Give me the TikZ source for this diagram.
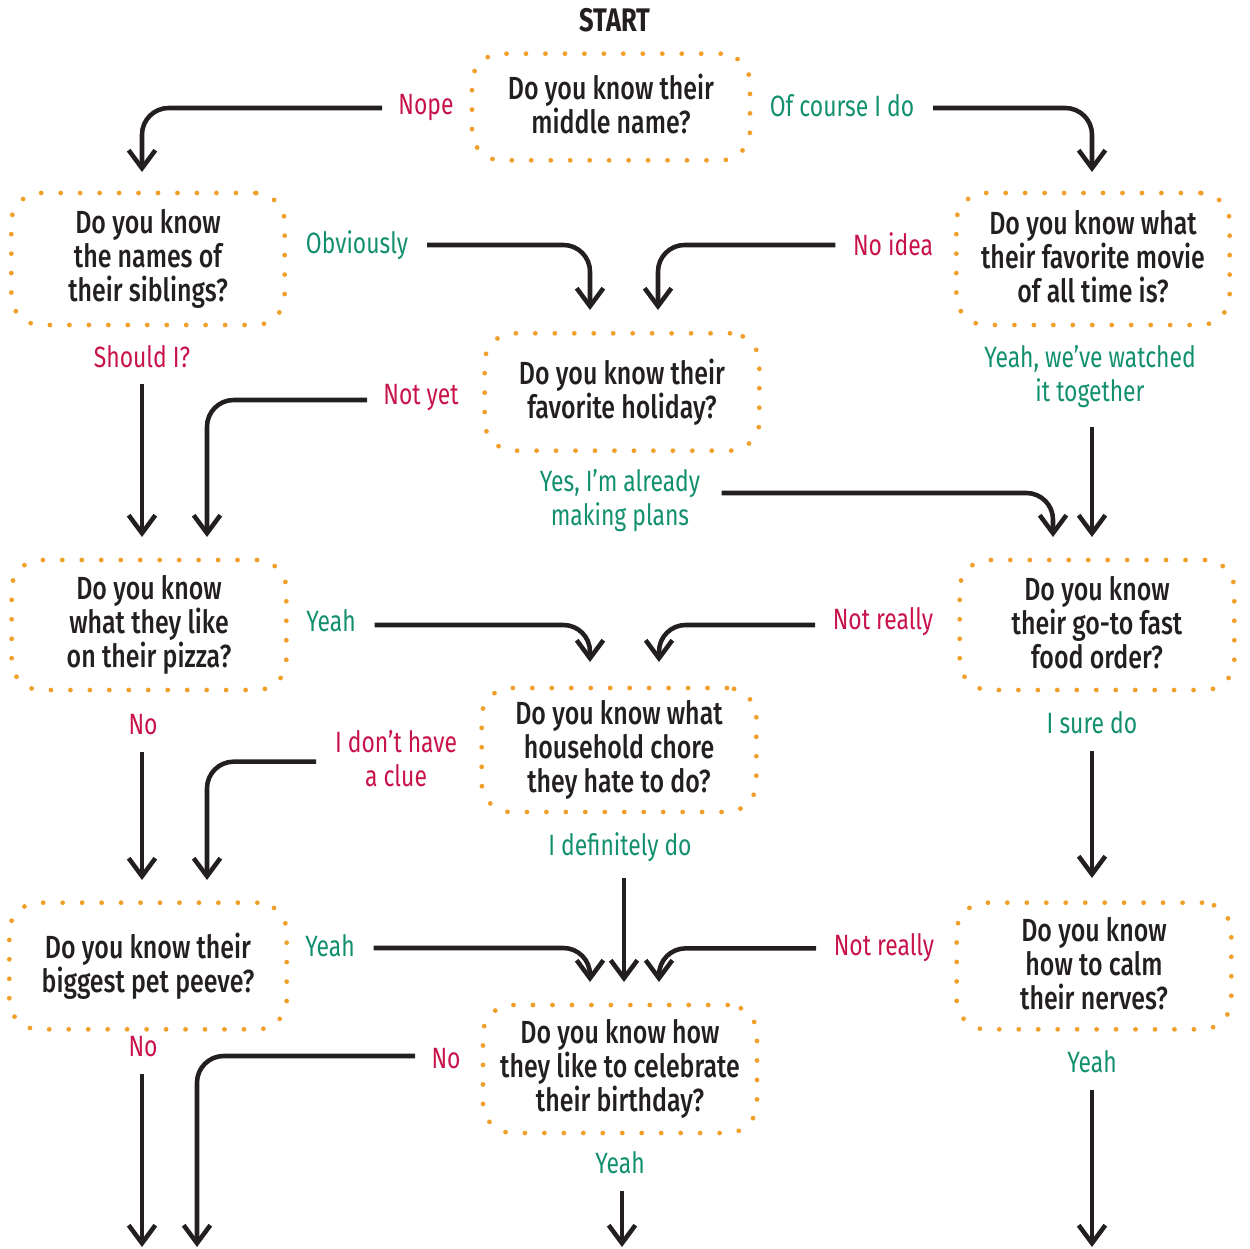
\documentclass[tikz,border=0pt]{standalone}
\usepackage{fontspec}
\setmainfont{Fira Sans}[FakeStretch=0.78]
\newfontfamily\qfont{Fira Sans Medium}[FakeStretch=0.78]
\usetikzlibrary{arrows.meta}
\definecolor{dotorange}{HTML}{F0A02A}
\definecolor{nored}{HTML}{C8124A}
\definecolor{yesgreen}{HTML}{12906E}
\definecolor{ink}{HTML}{231F20}
\tikzset{
  qbox/.style={draw=dotorange, line width=3.6pt, dash pattern=on 0pt off 14.6pt,
    line cap=round, rounded corners=22pt, align=center, text=ink,
    font=\qfont\fontsize{24}{25.5}\selectfont, inner sep=0pt,
    execute at begin node={\rule{0pt}{17.85pt}},
    execute at end node={\rule[-4.5pt]{0pt}{0pt}}},
  lab/.style={align=center, inner sep=0pt, font=\fontsize{22}{25.5}\selectfont,
    execute at begin node={\rule{0pt}{17pt}},
    execute at end node={\rule[-1pt]{0pt}{0pt}}},
  nolab/.style={lab, text=nored},
  yeslab/.style={lab, text=yesgreen},
  arr/.style={draw=ink, line width=3.4pt, rounded corners=20pt,
    -{Straight Barb[length=13.5pt,width=20pt]}},
}
\begin{document}
\begin{tikzpicture}[x=0.75pt,y=-0.75pt]
\useasboundingbox (0,0) rectangle (1250,1249);
% title
\node[font=\bfseries\fontsize{24.5}{26}\selectfont, text=ink, inner sep=0pt] (start) at (615,20) {START};
% question boxes
\node[qbox, minimum width=208.5pt, minimum height=80pt] (b1) at (611,107) {Do you know their\\middle name?};
\node[qbox, minimum width=205pt, minimum height=99pt] (b2) at (148,259) {Do you know\\the names of\\their siblings?};
\node[qbox, minimum width=205pt, minimum height=99pt] (b3) at (1093,259) {Do you know what\\their favorite movie\\of all time is?};
\node[qbox, minimum width=206pt, minimum height=88pt] (b4) at (622,392) {Do you know their\\favorite holiday?};
\node[qbox, minimum width=206pt, minimum height=97.5pt] (b5) at (149,625) {Do you know\\what they like\\on their pizza?};
\node[qbox, minimum width=206pt, minimum height=97.5pt] (b6) at (1097,625) {Do you know\\their go-to fast\\food order?};
\node[qbox, minimum width=206pt, minimum height=93pt] (b7) at (619,750) {Do you know what\\household chore\\they hate to do?};
\node[qbox, minimum width=208pt, minimum height=95pt] (b8) at (148,966) {Do you know their\\biggest pet peeve?};
\node[qbox, minimum width=206pt, minimum height=95pt] (b9) at (1094,966) {Do you know\\how to calm\\their nerves?};
\node[qbox, minimum width=205.5pt, minimum height=96pt] (b10) at (620,1069) {Do you know how\\they like to celebrate\\their birthday?};
% answer labels
\node[nolab] (nope) at (426,106) {Nope};
\node[yeslab] (ofc) at (842,106) {Of course I do};
\node[yeslab] (obv) at (357,245) {Obviously};
\node[nolab] (noidea) at (893,245) {No idea};
\node[nolab] (should) at (142,357) {Should I?};
\node[nolab] (notyet) at (421,396) {Not yet};
\node[yeslab] (watched) at (1090,377) {Yeah, we’ve watched\\it together};
\node[yeslab] (plans) at (620,501) {Yes, I’m already\\making plans};
\node[yeslab] (yeah1) at (331,621) {Yeah};
\node[nolab] (notreally1) at (883,621) {Not really};
\node[nolab] (no1) at (143,724) {No};
\node[nolab] (clue) at (396,759) {I don’t have\\a clue};
\node[yeslab] (suredo) at (1092,723) {I sure do};
\node[yeslab] (definitely) at (620,847) {I definitely do};
\node[yeslab] (yeah2) at (330,946) {Yeah};
\node[nolab] (notreally2) at (884,947) {Not really};
\node[nolab] (no2) at (143,1046) {No};
\node[nolab] (no3) at (446,1058) {No};
\node[yeslab] (yeah3) at (620,1163) {Yeah};
\node[yeslab] (yeah4) at (1092,1062) {Yeah};
% arrow ends
\coordinate (e1) at (142,172);
\coordinate (e2) at (1092,172);
\coordinate (e3) at (590,310);
\coordinate (e4) at (658,310);
\coordinate (e5) at (142,537);
\coordinate (e6) at (207,537);
\coordinate (e7) at (1092,537);
\coordinate (e8) at (1053,537);
\coordinate (e9) at (590,662);
\coordinate (e10) at (659,662);
\coordinate (e11) at (142,880);
\coordinate (e12) at (207,880);
\coordinate (e13) at (1092,878);
\coordinate (e14) at (624,982);
\coordinate (e15) at (590,982);
\coordinate (e16) at (659,982);
\coordinate (e17) at (142,1247);
\coordinate (e18) at (197,1247);
\coordinate (e19) at (622,1247);
\coordinate (e20) at (1092,1247);
% connectors
\draw[arr, shorten <=12pt] ([yshift=-1.5pt]nope.west) -| (e1);
\draw[arr, shorten <=14pt] ([yshift=-1.5pt]ofc.east) -| (e2);
\draw[arr, shorten <=14pt] (obv.east) -| (e3);
\draw[arr, shorten <=13pt] (noidea.west) -| (e4);
\draw[arr, shorten <=11pt] (should.south) -- (e5);
\draw[arr, shorten <=12pt] ([yshift=-3pt]notyet.west) -| (e6);
\draw[arr, shorten <=14pt] (watched.south -| e7) -- (e7);
\draw[arr] ([xshift=16pt,yshift=6pt]plans.east) -| (e8);
\draw[arr, shorten <=14pt] ([yshift=-3pt]yeah1.east) -| (e9);
\draw[arr, shorten <=13pt] ([yshift=-3pt]notreally1.west) -| (e10);
\draw[arr, shorten <=12pt] (no1.south -| e11) -- (e11);
\draw[arr] ([xshift=-14pt,yshift=-2pt]clue.west) -| (e12);
\draw[arr, shorten <=12pt] (suredo.south -| e13) -- (e13);
\draw[arr, shorten <=12pt] (definitely.south -| e14) -- (e14);
\draw[arr, shorten <=14pt] ([yshift=-1.5pt]yeah2.east) -| (e15);
\draw[arr, shorten <=13pt] ([yshift=-1pt]notreally2.west) -| (e16);
\draw[arr, shorten <=12pt] (no2.south -| e17) -- (e17);
\draw[arr, shorten <=12pt] ([yshift=1.5pt]no3.west) -| (e18);
\draw[arr, shorten <=12pt] (yeah3.south -| e19) -- (e19);
\draw[arr, shorten <=12pt] (yeah4.south -| e20) -- (e20);
\end{tikzpicture}
\end{document}
